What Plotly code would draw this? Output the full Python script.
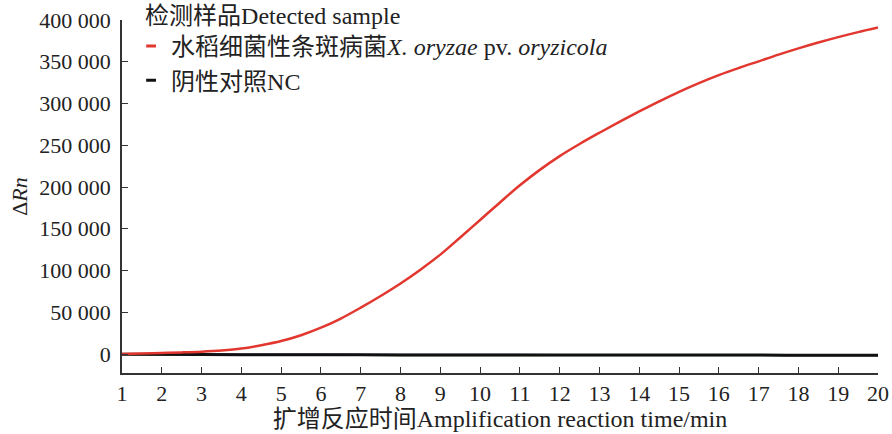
import plotly.graph_objects as go

time_min = [1, 1.5, 2, 2.5, 3, 3.5, 4, 4.5, 5, 5.5, 6, 6.5, 7, 7.5, 8, 8.5, 9, 9.5, 10,
            10.5, 11, 11.5, 12, 12.5, 13, 13.5, 14, 14.5, 15, 15.5, 16, 16.5, 17, 17.5,
            18, 18.5, 19, 19.5, 20]
xoo_rn = [0, 500, 1200, 1900, 2800, 4200, 6500, 10500, 15500, 22500, 31500, 42500,
          55500, 69500, 84500, 101000, 119000, 139500, 160500, 181500, 202000, 220500,
          237000, 251500, 265000, 278000, 290500, 302500, 314000, 324500, 334000,
          342500, 350500, 358500, 366000, 373000, 379500, 385500, 391000]
nc_time = [1, 3, 5, 7, 9, 11, 13, 15, 17, 19, 20]
nc_rn = [-300, -600, -900, -1000, -1100, -1200, -1200, -1300, -1300, -1500, -1500]
nc_rep_blue = [200, 0, -300, -500, -600, -700, -800, -800, -900, -1000, -1000]
nc_rep_green = [-500, -900, -1500, -1600, -1700, -1800, -1800, -1900, -1900, -2100, -2100]

y_ticks = [0, 50000, 100000, 150000, 200000, 250000, 300000, 350000, 400000]
x_ticks = list(range(1, 21))

FONT = "Liberation Serif, 'Noto Sans CJK SC', serif"
AXIS_COLOR = "#333333"
RED = "#e2372f"
BLACK = "#111111"

fig = go.Figure()

fig.add_trace(go.Scatter(x=nc_time, y=nc_rep_green, mode="lines", line=dict(color="#5aa05a", width=1.5),
                         line_shape="spline", showlegend=False, hoverinfo="skip"))
fig.add_trace(go.Scatter(x=nc_time, y=nc_rep_blue, mode="lines", line=dict(color="#4040b0", width=1.5),
                         line_shape="spline", showlegend=False, hoverinfo="skip"))
fig.add_trace(go.Scatter(x=nc_time, y=nc_rn, mode="lines", line=dict(color=BLACK, width=3),
                         line_shape="spline", showlegend=False))
fig.add_trace(go.Scatter(x=time_min, y=xoo_rn, mode="lines", line=dict(color=RED, width=2.5),
                         line_shape="spline", showlegend=False))

# legend entries with short dash symbols
fig.add_trace(go.Scatter(x=[None], y=[None], mode="markers",
                         marker=dict(symbol="line-ew-open", size=7, color=RED, line=dict(color=RED, width=3)),
                         name="水稻细菌性条斑病菌<i>X. oryzae</i> pv. <i>oryzicola</i>"))
fig.add_trace(go.Scatter(x=[None], y=[None], mode="markers",
                         marker=dict(symbol="line-ew-open", size=7, color=BLACK, line=dict(color=BLACK, width=3)),
                         name="阴性对照NC"))

fig.update_layout(
    width=892, height=434,
    margin=dict(l=122, r=14, t=20, b=61, autoexpand=False),
    paper_bgcolor="white", plot_bgcolor="white",
    font=dict(family=FONT, size=22, color="#222222"),
    separators=". ",
    showlegend=True,
    legend=dict(
        x=0.012, y=1.077, xanchor="left", yanchor="top",
        bgcolor="rgba(0,0,0,0)",
        font=dict(family=FONT, size=24, color="#222222"),
        title=dict(text="\u00a0\u00a0检测样品Detected sample", font=dict(family=FONT, size=24, color="#222222")),
        tracegroupgap=0, itemwidth=30,
    ),
    xaxis=dict(
        range=[1, 20], tickvals=x_ticks, ticks="inside", ticklen=6, tickwidth=1.2,
        tickcolor=AXIS_COLOR, showline=True, linecolor=AXIS_COLOR, linewidth=1.5,
        showgrid=False, zeroline=False, tickfont=dict(size=22),
        title=dict(text="扩增反应时间Amplification reaction time/min", font=dict(size=24), standoff=4),
    ),
    yaxis=dict(
        range=[-22750, 400000], tickvals=y_ticks, tickformat=",d", ticks="inside", ticklen=6,
        tickwidth=1.2, tickcolor=AXIS_COLOR, showline=True, linecolor=AXIS_COLOR, linewidth=1.5,
        showgrid=False, zeroline=False, tickfont=dict(size=22), ticklabelstandoff=5,
        title=dict(text="Δ<i>Rn</i>", font=dict(size=22), standoff=6),
    ),
)

fig.write_html("out.html", config={"displayModeBar": False},
               post_script="document.body.style.margin='0';")
